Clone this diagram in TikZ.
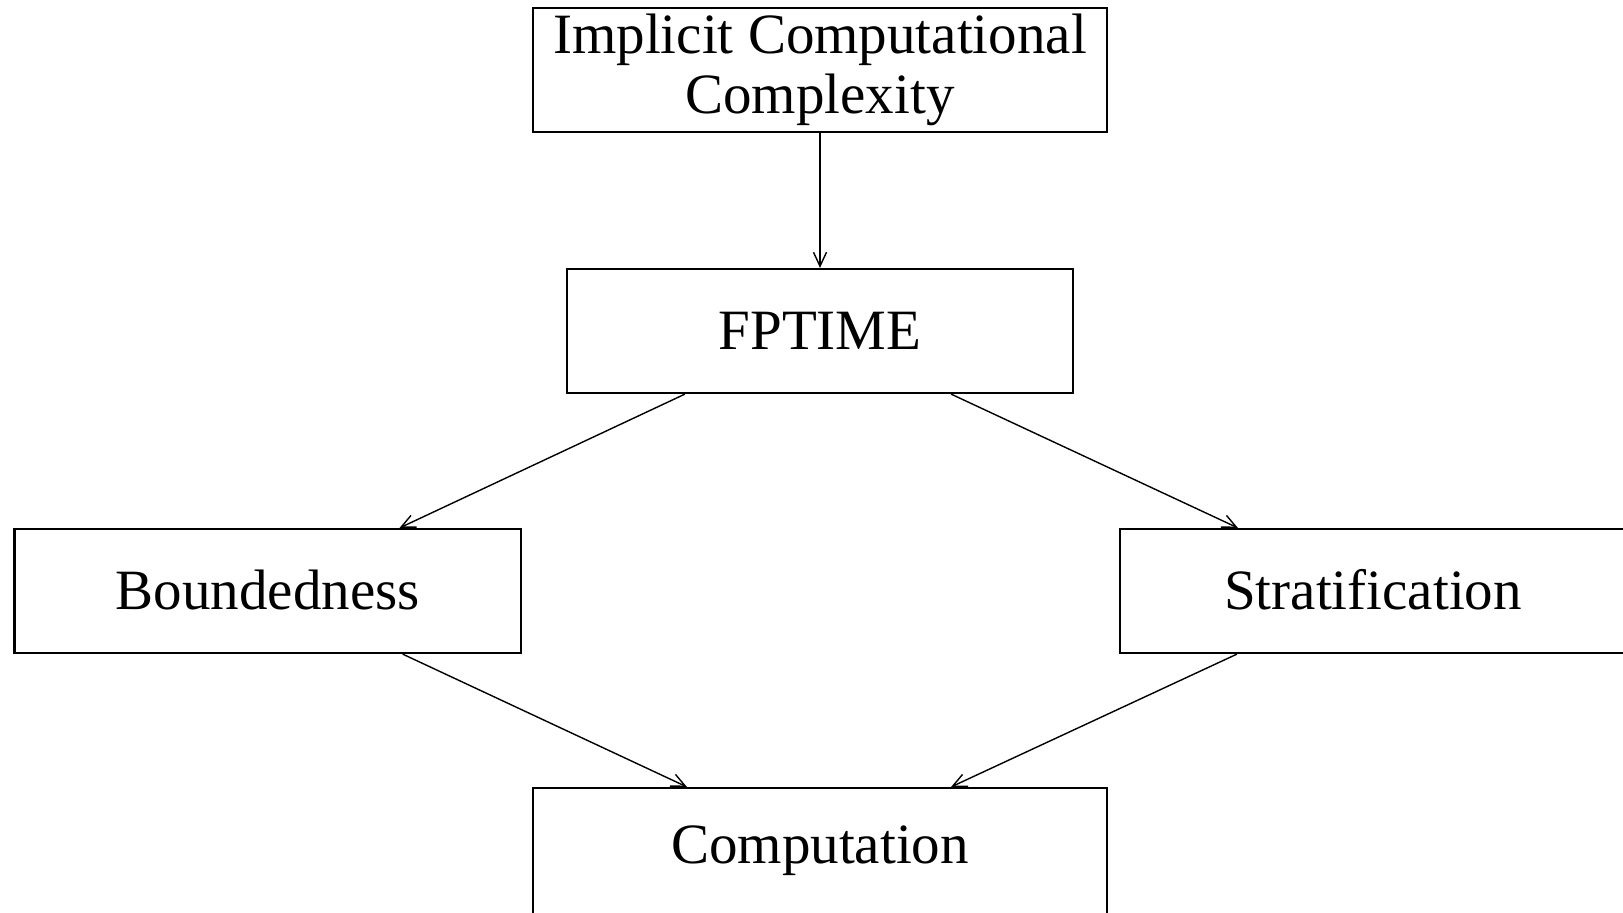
\documentclass[tikz,border=0pt]{standalone}
\usepackage{fontspec}
\setmainfont{Liberation Serif}
\usetikzlibrary{arrows.meta,calc}
\begin{document}
\begin{tikzpicture}[x=0.5pt,y=-0.5pt,
  box/.style={draw, line width=1.1pt, inner sep=0pt, minimum height=62pt,
    font=\fontsize{28.5}{30}\selectfont},
  onebox/.style={box, text height=18.9pt, text depth=0pt},
  conn/.style={line width=0.7pt, -{Straight Barb[length=7pt,width=6.5pt]}}]
\useasboundingbox (0,0) rectangle (1623,912);
\node[box, minimum width=287pt, align=center] (icc) at (820,70) {Implicit Computational\\Complexity};
\node[onebox, minimum width=253pt] (fp) at (820,331) {FPTIME};
\node[onebox, minimum width=253.25pt] (bd) at (267.75,591) {Boundedness};
\node[onebox, minimum width=253pt] (st) at (1373,591) {Stratification};
\node[onebox, minimum width=287pt, minimum height=68pt, text depth=11pt] (cp) at (820,856) {Computation};
\draw[conn] (icc.south) -- (fp.north);
\draw[conn] ($(fp.south west)+(119,0)$) -- ($(bd.north east)-(122.5,0)$);
\draw[conn] ($(fp.south east)-(123,0)$) -- ($(st.north west)+(119,0)$);
\draw[conn] ($(bd.south east)-(119.4,0)$) -- ($(cp.north west)+(155,0)$);
\draw[conn] ($(st.south west)+(118,0)$) -- ($(cp.north east)-(157,0)$);
\end{tikzpicture}
\end{document}
